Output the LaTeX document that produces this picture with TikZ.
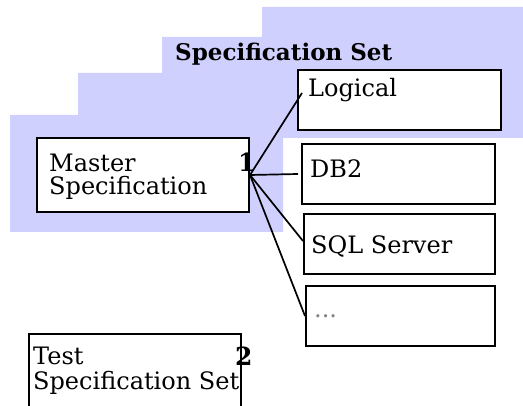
\documentclass[tikz,border=0pt]{standalone}
\usepackage{fontspec}
\setmainfont{DejaVu Serif}
\definecolor{cardblue}{RGB}{208,208,255}
\begin{document}
\begin{tikzpicture}[x=1pt,y=-1pt,
  box/.style={draw=black,line width=2pt,fill=white,rectangle,inner sep=0pt,anchor=north west},
  lbl/.style={anchor=base west,inner sep=0pt,font=\fontsize{24}{24}\selectfont},
  num/.style={anchor=base west,inner sep=0pt,font=\bfseries\fontsize{25}{25}\selectfont},
  conn/.style={draw=black,line width=1.7pt}]
\useasboundingbox (0,0) rectangle (523,406);
% stacked shaded cards
\fill[cardblue] (10,115) -- (78,115) -- (78,73) -- (162,73) -- (162,37) -- (262,37) -- (262,7)
  -- (523,7) -- (523,138) -- (283,138) -- (283,232) -- (10,232) -- cycle;
\node[anchor=base west,inner sep=0pt,font=\bfseries\fontsize{23}{24}\selectfont] (title) at (175,61) {Specification Set};
% boxes
\node[box,minimum width=212pt,minimum height=74pt] (master) at (36,137) {};
\node[box,minimum width=203pt,minimum height=60pt] (logical) at (297,69) {};
\node[box,minimum width=193pt,minimum height=60pt] (db2) at (301,143) {};
\node[box,minimum width=191pt,minimum height=60pt] (sql) at (303,213) {};
\node[box,minimum width=189pt,minimum height=60pt] (dots) at (305,285) {};
\node[box,minimum width=212pt,minimum height=90pt] (test) at (28,333) {};
% texts
\node[lbl] (tmaster) at (49,172) {Master};
\node[lbl] (tmaster2) at (49,195) {Specification};
\node[num] (one) at (238,172) {1};
\node[lbl] (tlogical) at (308,97) {Logical};
\node[lbl] (tdb2) at (310,178) {DB2};
\node[lbl] (tsql) at (311,254) {SQL Server};
\node[lbl,text=gray] (tdots) at (314,318) {...};
\node[lbl] (ttest) at (33,365) {Test};
\node[lbl] (ttest2) at (33,390) {Specification Set};
\node[num] (two) at (235,366) {2};
% connectors
\draw[conn] (master.east) -- ([xshift=5pt,yshift=7pt]logical.west);
\draw[conn] (master.east) -- ([xshift=-3pt]db2.west);
\draw[conn] (master.east) -- ([yshift=3pt]sql.west);
\draw[conn] (master.east) -- (dots.west);
\end{tikzpicture}
\end{document}
